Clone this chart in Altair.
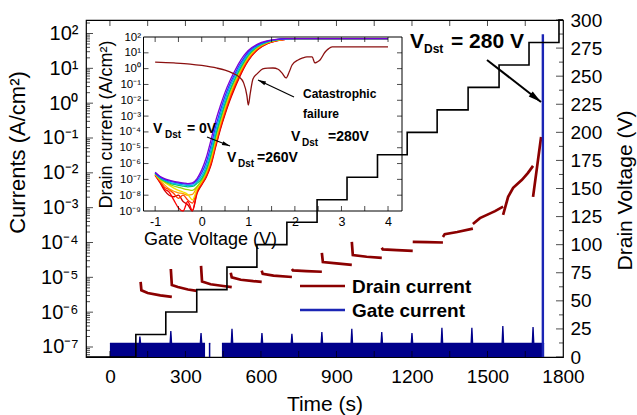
import math
import altair as alt
import pandas as pd

FONT = "Liberation Sans"
DARKRED = "#8b0000"
NAVY = "#00008b"
BLUE = "#1b25b5"

# ---------------- main panel: axis ranges ----------------
T_MIN, T_MAX = -95, 1800
I_MIN, I_MAX = 5.16e-8, 244.0
W, H = 477, 337

time_ticks = [0, 300, 600, 900, 1200, 1500, 1800]
cur_exps = [-7, -6, -5, -4, -3, -2, -1, 0, 1, 2]
cur_labels = ["10⁻⁷", "10⁻⁶", "10⁻⁵", "10⁻⁴", "10⁻³", "10⁻²", "10⁻¹", "10⁰", "10¹", "10²"]
volt_ticks = [0, 25, 50, 75, 100, 125, 150, 175, 200, 225, 250, 275, 300]

# ---------------- drain voltage staircase ----------------
stair_t = [-95, 103, 222, 345, 465, 584, 703, 823, 942, 1063, 1181, 1300, 1423, 1546, 1665, 1784, 1800]
stair_v = [0, 20, 40, 60, 80, 100, 120, 140, 160, 180, 200, 220, 240, 260, 280, 300, 300]

# ---------------- drain current segments (log10 A/cm2) ----------------
drain_t = [
    [122, 125, 150, 200, 246],
    [242, 246, 270, 310, 345],
    [362, 366, 400, 450, 484],
    [480, 484, 520, 570, 603],
    [603, 607, 650, 723],
    [723, 727, 780, 842],
    [842, 846, 900, 961],
    [961, 965, 1020, 1080],
    [1080, 1084, 1140, 1203],
    [1203, 1260, 1323],
    [1323, 1330, 1380, 1442],
    [1442, 1470, 1500, 1530, 1562],
    [1562, 1582, 1602, 1637, 1661, 1681],
    [1681, 1697, 1713],
]
drain_log = [
    [-5.13, -5.37, -5.45, -5.52, -5.56],
    [-4.76, -5.22, -5.28, -5.35, -5.39],
    [-4.67, -5.12, -5.20, -5.25, -5.28],
    [-4.87, -5.00, -5.07, -5.11, -5.13],
    [-4.81, -4.90, -4.95, -4.99],
    [-4.76, -4.80, -4.82, -4.84],
    [-4.30, -4.56, -4.60, -4.64],
    [-3.98, -4.36, -4.41, -4.44],
    [-4.15, -4.20, -4.22, -4.24],
    [-3.98, -3.99, -4.00],
    [-3.84, -3.76, -3.70, -3.60],
    [-3.47, -3.30, -3.20, -3.10, -2.97],
    [-3.21, -2.69, -2.43, -2.20, -2.00, -1.80],
    [-2.69, -1.83, -0.97],
]

# ---------------- gate current band (top edge, log10 A/cm2) ----------------
gate_t = [
    [0, 117, 119, 122, 239, 242, 245, 359, 362, 365, 378],
    [393, 399],
    [445, 482, 485, 488, 601, 604, 607, 720, 723, 726, 839, 842, 845, 958, 961, 964,
     1077, 1080, 1083, 1197, 1200, 1203, 1316, 1319, 1322, 1435, 1438, 1441,
     1558, 1561, 1564, 1678, 1681, 1684, 1725],
]
gate_log = [
    [-6.9, -6.9, -6.7, -6.9, -6.9, -6.54, -6.9, -6.9, -6.6, -6.9, -6.9],
    [-6.9, -6.9],
    [-6.9, -6.9, -6.48, -6.9, -6.9, -6.6, -6.9, -6.9, -6.62, -6.9, -6.9, -6.57, -6.9,
     -6.9, -6.48, -6.9, -6.9, -6.57, -6.9, -6.9, -6.6, -6.9, -6.9, -6.45, -6.9,
     -6.9, -6.45, -6.9, -6.9, -6.4, -6.9, -6.9, -6.43, -6.9, -6.9],
]
breakdown_t = [1720, 1720]
breakdown_i = [I_MIN, 95.0]

# ---------------- inset: transfer curves ----------------
inset_v = [-1.0, -0.9, -0.8, -0.7, -0.6, -0.5, -0.4, -0.3, -0.2, -0.1, 0.0, 0.1, 0.2, 0.3, 0.4,
           0.5, 0.6, 0.7, 0.8, 0.9, 1.0, 1.2, 1.4, 1.6, 1.8, 2.0, 2.5, 3.0, 3.5, 4.0]
violet_log = [-6.55, -6.8, -6.95, -7.05, -7.12, -7.18, -7.22, -7.27, -7.22, -6.95, -6.4, -5.6, -4.5, -3.3, -2.35,
              -1.5, -0.8, -0.2, 0.35, 0.8, 1.15, 1.55, 1.75, 1.85, 1.9, 1.9, 1.9, 1.9, 1.9, 1.9]
blue_log = [-6.58, -6.83, -7.0, -7.1, -7.17, -7.23, -7.27, -7.3, -7.28, -7.05, -6.6, -5.9, -4.85, -3.65, -2.65,
            -1.75, -1.0, -0.4, 0.18, 0.65, 1.05, 1.5, 1.73, 1.84, 1.89, 1.9, 1.9, 1.9, 1.9, 1.9]
cyan_log = [-6.6, -6.88, -7.05, -7.17, -7.25, -7.3, -7.35, -7.4, -7.38, -7.15, -6.8, -6.15, -5.15, -3.95, -2.9,
            -2.0, -1.2, -0.55, 0.02, 0.52, 0.95, 1.45, 1.7, 1.83, 1.89, 1.9, 1.9, 1.9, 1.9, 1.9]
green_log = [-6.62, -6.92, -7.1, -7.22, -7.32, -7.38, -7.43, -7.48, -7.45, -7.25, -6.95, -6.35, -5.4, -4.2, -3.15,
             -2.2, -1.4, -0.72, -0.12, 0.4, 0.85, 1.4, 1.68, 1.82, 1.88, 1.9, 1.9, 1.9, 1.9, 1.9]
ygreen_log = [-6.63, -6.95, -7.15, -7.3, -7.42, -7.5, -7.58, -7.65, -7.7, -7.45, -7.05, -6.45, -5.5, -4.3, -3.25,
              -2.3, -1.48, -0.8, -0.2, 0.35, 0.8, 1.37, 1.66, 1.81, 1.88, 1.9, 1.9, 1.9, 1.9, 1.9]
yellow_log = [-6.65, -6.98, -7.2, -7.38, -7.55, -7.7, -7.8, -7.95, -8.3, -7.6, -7.1, -6.5, -5.6, -4.4, -3.35,
              -2.4, -1.55, -0.85, -0.25, 0.3, 0.75, 1.35, 1.65, 1.8, 1.87, 1.9, 1.9, 1.9, 1.9, 1.9]
orange_log = [-6.68, -7.05, -7.35, -7.6, -7.75, -7.85, -7.9, -8.0, -7.95, -7.5, -7.15, -6.6, -5.75, -4.6, -3.5,
              -2.55, -1.7, -0.98, -0.35, 0.22, 0.68, 1.3, 1.62, 1.78, 1.86, 1.9, 1.9, 1.9, 1.9, 1.9]
red1_log = [-6.7, -7.1, -7.5, -7.65, -7.9, -8.2, -8.0, -8.3, -8.5, -7.7, -7.25, -6.7, -5.9, -4.75, -3.65,
            -2.7, -1.85, -1.1, -0.45, 0.12, 0.6, 1.25, 1.6, 1.77, 1.85, 1.9, 1.9, 1.9, 1.9, 1.9]
red2_log = [-6.72, -7.15, -7.6, -7.8, -8.3, -8.8, -9.0, -8.4, -8.95, -7.8, -7.3, -6.8, -6.0, -4.85, -3.75,
            -2.8, -1.95, -1.2, -0.55, 0.05, 0.55, 1.22, 1.58, 1.76, 1.85, 1.9, 1.9, 1.9, 1.9, 1.9]
red3_log = [-6.75, -7.2, -7.7, -8.0, -8.1, -8.0, -8.4, -8.6, -9.0, -7.9, -7.35, -6.85, -6.1, -4.95, -3.85,
            -2.9, -2.05, -1.3, -0.62, 0.0, 0.5, 1.2, 1.57, 1.75, 1.85, 1.9, 1.9, 1.9, 1.9, 1.9]
curve_logs = [red3_log, red2_log, red1_log, orange_log, yellow_log, ygreen_log, green_log, cyan_log, blue_log, violet_log]
curve_colors = ["#d00000", "#ff0000", "#ff3a00", "#ff9a00", "#f2e000", "#9ad400", "#00c870", "#00b8e0", "#2040ff", "#7a00d8"]

cat_v = [-1.0, -0.6, -0.25, 0.0, 0.33, 0.5, 0.66, 0.8, 0.9, 0.97, 1.0, 1.04, 1.1, 1.2, 1.31, 1.42, 1.53, 1.64,
         1.73, 1.81, 1.88, 1.94, 2.07, 2.17, 2.26, 2.37, 2.43, 2.48, 2.54, 2.65, 2.72, 2.8, 3.2, 3.6, 4.0]
cat_log = [0.41, 0.36, 0.29, 0.2, 0.03, -0.1, -0.28, -0.52, -0.9, -1.7, -2.3, -1.6, -0.65, -0.3, -0.02, 0.03, 0.04,
           -0.04, -0.3, -0.59, -0.2, 0.23, 0.55, 0.68, 0.74, 0.74, 0.36, 0.42, 0.55, 1.05, 1.25, 1.37, 1.37, 1.37, 1.37]

in_exps = [-9, -8, -7, -6, -5, -4, -3, -2, -1, 0, 1, 2]
in_labels = ["10⁻⁹", "10⁻⁸", "10⁻⁷", "10⁻⁶", "10⁻⁵", "10⁻⁴", "10⁻³", "10⁻²", "10⁻¹", "10⁰", "10¹", "10²"]
in_vticks = [-1, 0, 1, 2, 3, 4]
V_MIN, V_MAX = -1.25, 4.3
IN_MIN, IN_MAX = 1e-9, 1e2

# ---------------- build tables ----------------
def seg_df(ts, ls, key):
    rows = []
    for k, (tt, ll) in enumerate(zip(ts, ls)):
        for t, l in zip(tt, ll):
            rows.append({key: t, "i": 10 ** l, "seg": k})
    return pd.DataFrame(rows)

gate_df = seg_df(gate_t, gate_log, "t")
drain_df = seg_df(drain_t, drain_log, "t")
brk_df = pd.DataFrame({"t": breakdown_t, "i": breakdown_i})
stair_df = pd.DataFrame({"t": stair_t, "v": stair_v})

def xs_main():
    return alt.Scale(domain=[T_MIN, T_MAX], nice=False, zero=False)

def ys_cur():
    return alt.Scale(type="log", domain=[I_MIN, I_MAX], nice=False)

def ys_volt():
    return alt.Scale(domain=[0, 300], nice=False, zero=False)

def xs_in():
    return alt.Scale(domain=[V_MIN, V_MAX], range=[57.5, 316], nice=False, zero=False)

def ys_in():
    return alt.Scale(type="log", domain=[IN_MIN, IN_MAX], range=[191, 17], nice=False)

cur_expr = "[" + ",".join("'%s'" % s for s in cur_labels) + "][round(log(datum.value)/LN10)+7]"
in_expr = "[" + ",".join("'%s'" % s for s in in_labels) + "][round(log(datum.value)/LN10)+9]"

common_axis = dict(ticks=False, domain=False, grid=False, labelFont=FONT, labelColor="black",
                   titleFont=FONT, titleColor="black", titleFontWeight="normal", labelOverlap=False)

x_main_axis = alt.Axis(orient="bottom", values=time_ticks, labelExpr="'' + datum.value", labelFontSize=19,
                       labelPadding=10, labelFlush=False, title="Time (s)", titleFontSize=21, titlePadding=7,
                       **common_axis)
y_main_axis = alt.Axis(orient="left", values=[10 ** e for e in cur_exps], labelExpr=cur_expr, labelFontSize=20,
                       labelPadding=8, title="Currents (A/cm²)", titleFontSize=22, titleX=-69, titleY=132,
                       titleAngle=270, titleAlign="center", titleBaseline="middle", **common_axis)
y_volt_axis = alt.Axis(orient="right", values=volt_ticks, labelFontSize=19, labelPadding=7,
                       title="Drain Voltage (V)", titleFontSize=21, titleX=62, titleY=170, titleAngle=270,
                       titleAlign="center", titleBaseline="middle", **common_axis)
x_in_axis = alt.Axis(orient="bottom", offset=-146, values=in_vticks, labelExpr="'' + datum.value",
                     labelFontSize=12.5, labelPadding=4, labelFlush=False, title="Gate Voltage (V)",
                     titleFontSize=18, titleX=124, titleY=28.5, titleAlign="center", titleBaseline="middle",
                     zindex=1, **common_axis)
y_in_axis = alt.Axis(orient="left", offset=-57.5, values=[10 ** e for e in in_exps], labelExpr=in_expr,
                     labelFontSize=11.5, labelPadding=3, title="Drain current (A/cm²)", titleFontSize=18,
                     titlePadding=3, zindex=1, **common_axis)

layers = []

# ---------------- main (currents) layers ----------------
layers.append(alt.Chart(gate_df).mark_area(color=NAVY, clip=True).encode(
    x=alt.X("t:Q", scale=xs_main(), axis=x_main_axis),
    y=alt.Y("i:Q", scale=ys_cur(), axis=y_main_axis),
    y2=alt.datum(I_MIN),
    detail="seg:N",
))
layers.append(alt.Chart(gate_df).mark_line(color=NAVY, strokeWidth=1.3, clip=True).encode(
    x=alt.X("t:Q", scale=xs_main(), axis=None), y=alt.Y("i:Q", scale=ys_cur(), axis=None), detail="seg:N"))
layers.append(alt.Chart(drain_df).mark_line(color=DARKRED, strokeWidth=2.7, clip=True).encode(
    x=alt.X("t:Q", scale=xs_main(), axis=None), y=alt.Y("i:Q", scale=ys_cur(), axis=None), detail="seg:N"))
layers.append(alt.Chart(brk_df).mark_line(color=BLUE, strokeWidth=2.4).encode(
    x=alt.X("t:Q", scale=xs_main(), axis=None), y=alt.Y("i:Q", scale=ys_cur(), axis=None)))

left_major = pd.DataFrame({"i": [10 ** e for e in cur_exps]})
left_minor = pd.DataFrame({"i": [m * 10 ** e for e in range(-8, 3) for m in range(2, 10) if I_MIN < m * 10 ** e < I_MAX]})
tick_t = pd.DataFrame({"t": [0, 150, 300, 450, 600, 750, 900, 1050, 1200, 1350, 1500, 1650]})

layers.append(alt.Chart(left_major).mark_tick(orient="horizontal", size=7, thickness=1, xOffset=3.5, color="black").encode(
    x=alt.datum(T_MIN, scale=xs_main(), axis=None), y=alt.Y("i:Q", scale=ys_cur(), axis=None)))
layers.append(alt.Chart(left_minor).mark_tick(orient="horizontal", size=4, thickness=1, xOffset=2, color="black").encode(
    x=alt.datum(T_MIN, scale=xs_main(), axis=None), y=alt.Y("i:Q", scale=ys_cur(), axis=None)))
layers.append(alt.Chart(tick_t).mark_tick(orient="vertical", size=6, thickness=1, yOffset=3, color="black").encode(
    x=alt.X("t:Q", scale=xs_main(), axis=None), y=alt.datum(I_MAX, scale=ys_cur(), axis=None)))
layers.append(alt.Chart(tick_t).mark_tick(orient="vertical", size=6, thickness=1, yOffset=-3, color="black").encode(
    x=alt.X("t:Q", scale=xs_main(), axis=None), y=alt.datum(I_MIN, scale=ys_cur(), axis=None)))

# ---------------- voltage layers ----------------
layers.append(alt.Chart(stair_df).mark_line(interpolate="step-after", color="black", strokeWidth=1.6).encode(
    x=alt.X("t:Q", scale=xs_main(), axis=None),
    y=alt.Y("v:Q", scale=ys_volt(), axis=y_volt_axis),
))
rmaj = pd.DataFrame({"v": volt_ticks})
rmin = pd.DataFrame({"v": [12.5 + 25 * k for k in range(12)]})
layers.append(alt.Chart(rmaj).mark_tick(orient="horizontal", size=7, thickness=1, xOffset=-3.5, color="black").encode(
    x=alt.datum(T_MAX, scale=xs_main(), axis=None), y=alt.Y("v:Q", scale=ys_volt(), axis=None)))
layers.append(alt.Chart(rmin).mark_tick(orient="horizontal", size=4, thickness=1, xOffset=-2, color="black").encode(
    x=alt.datum(T_MAX, scale=xs_main(), axis=None), y=alt.Y("v:Q", scale=ys_volt(), axis=None)))

# ---------------- inset layers ----------------
layers.append(alt.Chart(alt.Data(values=[{}])).mark_rect(fill="transparent", stroke="black", strokeWidth=1).encode(
    x=alt.datum(V_MIN, scale=xs_in(), axis=x_in_axis),
    x2=alt.datum(V_MAX),
    y=alt.datum(IN_MIN, scale=ys_in(), axis=y_in_axis),
    y2=alt.datum(IN_MAX),
))
for logs, col in zip(curve_logs, curve_colors):
    df = pd.DataFrame({"vg": inset_v, "i": [10 ** l for l in logs]})
    layers.append(alt.Chart(df).mark_line(color=col, strokeWidth=1.3, interpolate="monotone").encode(
        x=alt.X("vg:Q", scale=xs_in(), axis=None), y=alt.Y("i:Q", scale=ys_in(), axis=None)))
cat_df = pd.DataFrame({"vg": cat_v, "i": [10 ** l for l in cat_log]})
layers.append(alt.Chart(cat_df).mark_line(color="#8b1010", strokeWidth=1.3, interpolate="monotone").encode(
    x=alt.X("vg:Q", scale=xs_in(), axis=None), y=alt.Y("i:Q", scale=ys_in(), axis=None)))

in_dec = pd.DataFrame({"i": [10 ** e for e in in_exps[1:-1]]})
in_vt = pd.DataFrame({"vg": [-1, -0.5, 0, 0.5, 1, 1.5, 2, 2.5, 3, 3.5, 4]})
layers += [
    alt.Chart(in_dec).mark_tick(orient="horizontal", size=5, thickness=1, xOffset=2.5, color="black").encode(
        x=alt.datum(V_MIN, scale=xs_in(), axis=None), y=alt.Y("i:Q", scale=ys_in(), axis=None)),
    alt.Chart(in_dec).mark_tick(orient="horizontal", size=5, thickness=1, xOffset=-2.5, color="black").encode(
        x=alt.datum(V_MAX, scale=xs_in(), axis=None), y=alt.Y("i:Q", scale=ys_in(), axis=None)),
    alt.Chart(in_vt).mark_tick(orient="vertical", size=5, thickness=1, yOffset=-2.5, color="black").encode(
        x=alt.X("vg:Q", scale=xs_in(), axis=None), y=alt.datum(IN_MIN, scale=ys_in(), axis=None)),
    alt.Chart(in_vt).mark_tick(orient="vertical", size=5, thickness=1, yOffset=2.5, color="black").encode(
        x=alt.X("vg:Q", scale=xs_in(), axis=None), y=alt.datum(IN_MAX, scale=ys_in(), axis=None)),
]

# ---------------- annotations (pixel placement) ----------------
ONE = alt.Data(values=[{}])

def txt(s, x, y, size, weight="bold"):
    return alt.Chart(ONE).mark_text(text=s, font=FONT, fontSize=size, fontWeight=weight, align="left",
                                    baseline="alphabetic", color="black").encode(x=alt.value(x), y=alt.value(y))

def arrow(x1, y1, x2, y2, width, head):
    ang = math.degrees(math.atan2(x2 - x1, -(y2 - y1))) % 360
    ln = alt.Chart(ONE).mark_rule(color="black", strokeWidth=width).encode(
        x=alt.value(x1), x2=alt.value(x2), y=alt.value(y1), y2=alt.value(y2))
    hd = alt.Chart(ONE).mark_point(shape="M0,0L-0.5,2L0.5,2Z", size=head, angle=ang, filled=True,
                                   color="black", opacity=1, strokeWidth=0).encode(x=alt.value(x2), y=alt.value(y2))
    return [ln, hd]

layers += [txt("V", 324, 28, 21), txt("Dst", 338, 33, 12), txt("= 280 V", 365, 28, 21)]
layers += arrow(401, 40, 455, 82, 2, 169)
layers += [txt("V", 67, 113, 14), txt("Dst", 79, 118, 10), txt("= 0V", 101, 113, 14)]
layers += arrow(121, 117, 144, 126, 1.2, 64)
layers += [txt("V", 141, 142, 14), txt("Dst", 152, 147, 10), txt("=260V", 171, 142, 14)]
layers += [txt("Catastrophic", 217, 78, 12), txt("failure", 217, 98, 12)]
layers += [txt("V", 205, 121, 14), txt("Dst", 216, 126, 10), txt("=280V", 242, 121, 14)]
layers += arrow(208, 77, 172, 60, 1.2, 64)

for (yy, col, lab) in [(266, DARKRED, "Drain current"), (290, BLUE, "Gate current")]:
    layers.append(alt.Chart(ONE).mark_rule(color=col, strokeWidth=2.5).encode(
        x=alt.value(214), x2=alt.value(259), y=alt.value(yy)))
    layers.append(txt(lab, 266, yy + 7, 19))

chart = alt.layer(*layers).resolve_scale(
    x="independent", y="independent"
).properties(
    width=W, height=H,
    autosize=alt.AutoSizeParams(type="none"),
    padding={"left": 86, "top": 20, "right": 74, "bottom": 58},
    background="white",
).configure_view(stroke="black", strokeWidth=1.2)

chart.save("out.html", embed_options={"renderer": "svg", "actions": False})
